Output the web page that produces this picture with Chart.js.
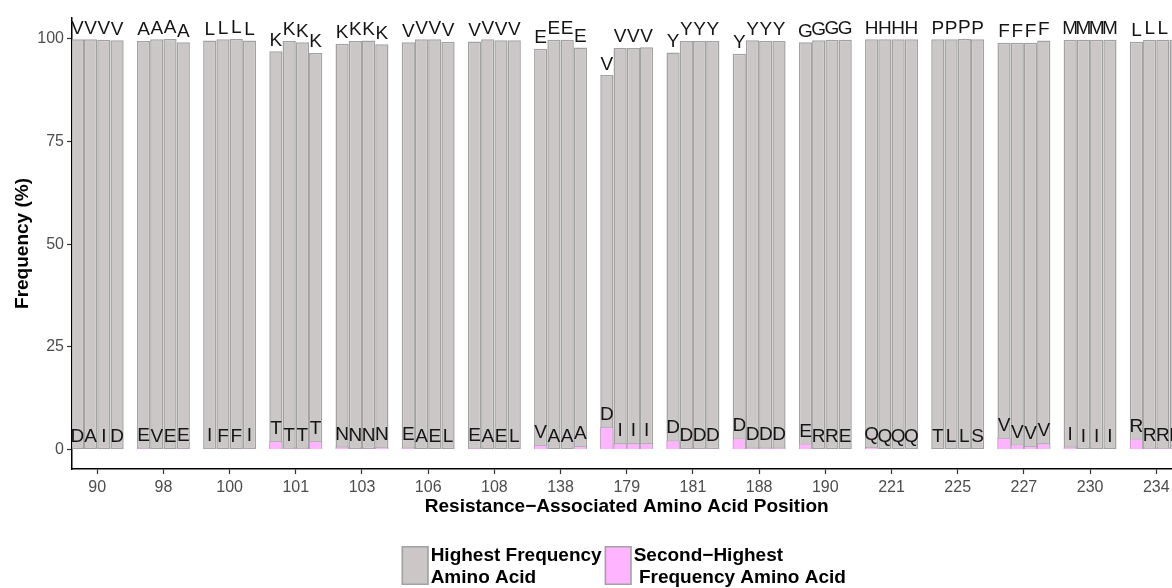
<!DOCTYPE html>
<html>
<head>
<meta charset="utf-8">
<script src="https://cdn.jsdelivr.net/npm/chart.js@4.4.1/dist/chart.umd.min.js"></script>
<style>
  html, body { margin: 0; padding: 0; background: #fff; overflow: hidden; }
  #wrap { position: relative; width: 1200px; height: 588px; }
</style>
</head>
<body>
<div id="wrap"><canvas id="chart"></canvas></div>
<script>
// Frequency of the most common and second most common residue at each
// resistance-associated position, four bars (subtypes) per position.
const positions = ["90", "98", "100", "101", "103", "106", "108", "138", "179",
  "181", "188", "190", "221", "225", "227", "230", "234"];

// letters drawn over the bars, one character per bar
const topAA = ["VVVV", "AAAA", "LLLL", "KKKK", "KKKK", "VVVV", "VVVV", "EEEE", "VVVV",
  "YYYY", "YYYY", "GGGG", "HHHH", "PPPP", "FFFF", "MMMM", "LLLL"];
const secondAA = ["DAID", "EVEE", "IFFI", "TTTT", "NNNN", "EAEL", "EAEL", "VAAA", "DIII",
  "DDDD", "DDDD", "ERRE", "QQQQ", "TLLS", "VVVV", "IIII", "RRRR"];

// % per position, 4 bars each
const highestFreq = [
  [99.9, 99.9, 99.8, 99.7], [99.5, 99.9, 100, 99.2], [99.6, 99.9, 100, 99.6],
  [97.0, 99.5, 99.2, 96.6], [98.8, 99.5, 99.6, 98.7], [99.2, 99.9, 99.9, 99.3],
  [99.4, 99.9, 99.7, 99.7], [97.6, 99.8, 99.8, 97.9], [91.2, 97.8, 97.8, 98.0],
  [96.7, 99.5, 99.5, 99.5], [96.4, 99.7, 99.5, 99.5], [99.2, 99.7, 99.8, 99.8],
  [99.9, 99.9, 99.9, 99.9], [99.9, 99.9, 100, 99.9], [99.1, 99.1, 99.1, 99.6],
  [99.8, 99.8, 99.8, 99.8], [99.3, 99.8, 99.8, 99.8],
];
const secondFreq = [
  [0.1, 0.1, 0.1, 0.2], [0.4, 0.1, 0.05, 0.3], [0.3, 0.1, 0.05, 0.3],
  [2.0, 0.4, 0.4, 2.0], [0.7, 0.3, 0.3, 0.6], [0.5, 0.1, 0.1, 0.2],
  [0.4, 0.1, 0.1, 0.1], [1.1, 0.1, 0.1, 0.8], [5.5, 1.5, 1.5, 1.5],
  [2.2, 0.3, 0.3, 0.3], [2.7, 0.5, 0.5, 0.5], [1.4, 0.2, 0.1, 0.1],
  [0.6, 0.1, 0.1, 0.1], [0.1, 0.1, 0.05, 0.1], [2.8, 1.2, 0.8, 1.5],
  [0.7, 0.1, 0.1, 0.1], [2.6, 0.4, 0.4, 0.4],
];
const yTicks = [0, 25, 50, 75, 100];

const GREY = "#cbc7c7", PINK = "#ffb4ff", EDGE = "#a2a2a2";
const FONT = "'Liberation Sans', Arial, Helvetica, sans-serif";
const X_PAD = 0.381; // discrete-axis expansion, in position units

// same `stack` id for a grey bar and its pink bar -> they share a slot and overlap
// (x is stacked, y is not, so values are not summed)
const datasets = [];
for (let i = 0; i < 4; i++) {
  datasets.push({
    label: "Highest Frequency Amino Acid",
    stack: "s" + i, order: 1,
    data: positions.map((p, g) => ({ x: g, y: highestFreq[g][i] })),
    letters: topAA.map((s) => s[i]), gap: 5.5,
    backgroundColor: GREY, borderColor: EDGE, borderWidth: 1.5, borderSkipped: false,
  });
}
for (let i = 0; i < 4; i++) {
  datasets.push({
    label: "Second-Highest Frequency Amino Acid",
    stack: "s" + i, order: 0,
    data: positions.map((p, g) => ({ x: g, y: secondFreq[g][i] })),
    letters: secondAA.map((s) => s[i]), gap: 7,
    backgroundColor: PINK, borderColor: EDGE, borderWidth: 0.8, borderSkipped: "start",
  });
}

const setGroupTicks = (scale) => { scale.ticks = positions.map((p, g) => ({ value: g })); };

// amino-acid letters above every bar
const barLetters = {
  id: "barLetters",
  afterDatasetsDraw(chart) {
    const ctx = chart.ctx;
    ctx.save();
    ctx.font = `19px ${FONT}`;
    ctx.fillStyle = "#151515";
    ctx.textAlign = "center";
    ctx.textBaseline = "alphabetic";
    chart.data.datasets.forEach((ds, di) => {
      chart.getDatasetMeta(di).data.forEach((bar, j) => {
        ctx.fillText(ds.letters[j], bar.x, bar.y - ds.gap);
      });
    });
    ctx.restore();
  },
};

// ggplot-style legend: tall keys, two-line bold labels, centred under the panel
const keyLegend = {
  id: "keyLegend",
  afterDraw(chart) {
    const ctx = chart.ctx, a = chart.chartArea;
    const items = [
      { fill: GREY, lines: ["Highest Frequency", "Amino Acid"] },
      { fill: PINK, lines: ["Second\u2212Highest", " Frequency Amino Acid"] },
    ];
    const boxW = 27, boxH = 39, textGap = 2, itemGap = 3, top = 546;
    ctx.save();
    ctx.font = `bold 19px ${FONT}`;
    const widths = items.map((it) => boxW + textGap + Math.max(...it.lines.map((l) => ctx.measureText(l).width)));
    const total = widths.reduce((s, w) => s + w, 0) + itemGap;
    let x = (a.left + a.right) / 2 - total / 2 - 3;
    items.forEach((it, k) => {
      ctx.fillStyle = it.fill;
      ctx.fillRect(x, top, boxW, boxH);
      ctx.strokeStyle = EDGE;
      ctx.lineWidth = 1.5;
      ctx.strokeRect(x + 0.75, top + 0.75, boxW - 1.5, boxH - 1.5);
      ctx.fillStyle = "#000";
      ctx.textAlign = "left";
      ctx.textBaseline = "alphabetic";
      ctx.fillText(it.lines[0], x + boxW + textGap, top + 15);
      ctx.fillText(it.lines[1], x + boxW + textGap, top + 37);
      x += widths[k] + itemGap;
    });
    ctx.restore();
  },
};

new Chart(document.getElementById("chart"), {
  type: "bar",
  data: { datasets },
  plugins: [barLetters, keyLegend],
  options: {
    responsive: true,
    maintainAspectRatio: false,
    animation: false,
    layout: { padding: { top: 18, right: 18.5, bottom: 70, left: 0 } },
    datasets: { bar: { categoryPercentage: 0.8, barPercentage: 1 } },
    plugins: { legend: { display: false }, tooltip: { enabled: false } },
    scales: {
      x: {
        type: "linear", stacked: true, offset: false,
        min: -X_PAD, max: positions.length - 1 + X_PAD,
        afterBuildTicks: setGroupTicks,
        afterFit: (s) => { s.height = 49; },
        ticks: {
          autoSkip: false, maxRotation: 0, padding: 4, color: "#4d4d4d",
          font: { family: FONT, size: 16 },
          callback: (v) => positions[v],
        },
        grid: { offset: false, drawOnChartArea: false, drawTicks: true, tickLength: 5, tickColor: "#333", tickWidth: 1.2 },
        border: { display: true, color: "#000", width: 1.5 },
        title: {
          display: true, text: "Resistance\u2212Associated Amino Acid Position", color: "#000",
          font: { family: FONT, size: 19, weight: "bold" }, padding: { top: 0, bottom: 0 },
        },
      },
      y: {
        stacked: false,
        min: -4.75, max: 105.1,
        afterBuildTicks: (s) => { s.ticks = yTicks.map((v) => ({ value: v })); },
        afterFit: (s) => { s.width = 72; },
        ticks: { padding: 3, color: "#4d4d4d", font: { family: FONT, size: 16 } },
        grid: { drawOnChartArea: false, drawTicks: true, tickLength: 5, tickColor: "#333", tickWidth: 1.2 },
        border: { display: true, color: "#000", width: 1.5 },
        title: {
          display: true, text: "Frequency (%)", color: "#000",
          font: { family: FONT, size: 19, weight: "bold" }, padding: { top: 11, bottom: 0 },
        },
      },
    },
  },
});
</script>
</body>
</html>
